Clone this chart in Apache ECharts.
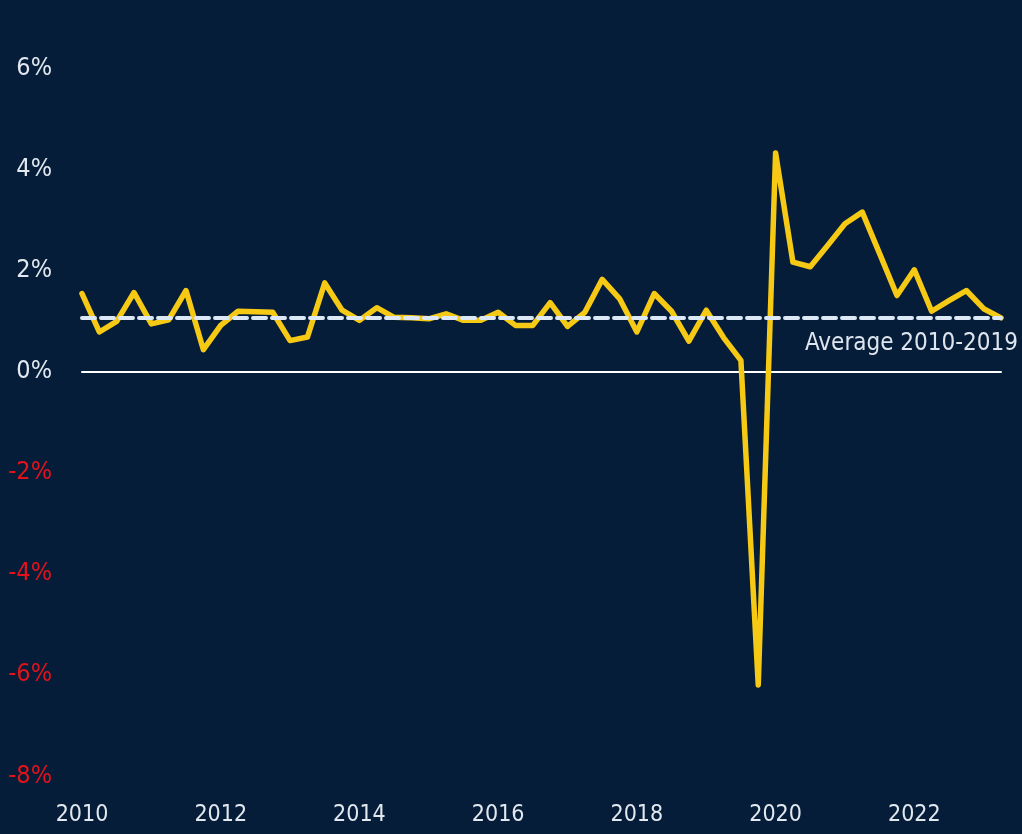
<!DOCTYPE html>
<html>
<head>
<meta charset="utf-8">
<script src="https://cdn.jsdelivr.net/npm/echarts@6/dist/echarts.min.js"></script>
<style>
  html, body { margin: 0; padding: 0; background: #051d38; }
  #chart { width: 1022px; height: 834px; }
</style>
</head>
<body>
<div id="chart"></div>
<script>
// quarterly growth, 2010 Q1 .. 2023 Q2
const years = [2010, 2011, 2012, 2013, 2014, 2015, 2016, 2017, 2018, 2019, 2020, 2021, 2022, 2023]
const quarters = []
years.forEach(y => {
  for (let q = 1; q <= 4; q++) {
    if (y === 2023 && q > 2) break
    quarters.push(y + ' Q' + q)
  }
})

const growth = [
  1.54, 0.78, 0.99, 1.56, 0.94, 1.02, 1.60, 0.43,
  0.91, 1.19, 1.18, 1.17, 0.61, 0.68, 1.75, 1.21,
  1.01, 1.26, 1.07, 1.06, 1.04, 1.14, 1.01, 1.01,
  1.17, 0.91, 0.91, 1.36, 0.89, 1.17, 1.82, 1.44,
  0.78, 1.54, 1.19, 0.60, 1.21, 0.67, 0.22, -6.2,
  4.32, 2.16, 2.07, 2.49, 2.92, 3.15, 2.33, 1.50,
  2.01, 1.19, 1.40, 1.60, 1.24, 1.06
]

const average = 1.07
const averageLabel = 'Average 2010-2019'

const yMin = -8
const yMax = 6
const yStep = 2

const font = '"Liberation Sans Narrow", "DejaVu Sans Condensed", sans-serif'

const chart = echarts.init(document.getElementById('chart'), null, { renderer: 'canvas' })

chart.setOption({
  backgroundColor: '#051d38',
  animation: false,
  grid: { left: 82, right: 21, top: 68, bottom: 58, containLabel: false },
  xAxis: {
    type: 'category',
    data: quarters,
    boundaryGap: false,
    axisLine: { onZero: true, lineStyle: { color: '#ffffff', width: 2 } },
    axisTick: { show: false },
    axisLabel: {
      interval: (i, v) => v.endsWith('Q1') && Number(v.slice(0, 4)) % 2 === 0,
      formatter: v => v.slice(0, 4),
      color: '#e2e8ef',
      fontFamily: font,
      fontSize: 23,
      margin: 28
    },
    splitLine: { show: false }
  },
  yAxis: {
    type: 'value',
    min: yMin,
    max: yMax,
    interval: yStep,
    axisLine: { show: false },
    axisTick: { show: false },
    splitLine: { show: false },
    axisLabel: {
      formatter: v => v + '%',
      color: v => (Number(v) < 0 ? '#e3121b' : '#e2e8ef'),
      fontFamily: font,
      fontSize: 25,
      margin: 30
    }
  },
  series: [
    {
      type: 'line',
      data: growth,
      symbol: 'none',
      z: 3,
      lineStyle: { color: '#f6c915', width: 5.5, join: 'round', cap: 'round' },
      markLine: {
        silent: true,
        symbol: 'none',
        z: 4,
        lineStyle: {
          color: '#dce8f5',
          width: 4,
          type: [13, 6],
          cap: 'round'
        },
        label: {
          show: true,
          position: 'insideEndBottom',
          formatter: averageLabel,
          color: '#dfe5ee',
          fontFamily: font,
          fontSize: 24,
          distance: [-17, 14]
        },
        data: [{ yAxis: average }]
      }
    }
  ]
})
</script>
</body>
</html>
